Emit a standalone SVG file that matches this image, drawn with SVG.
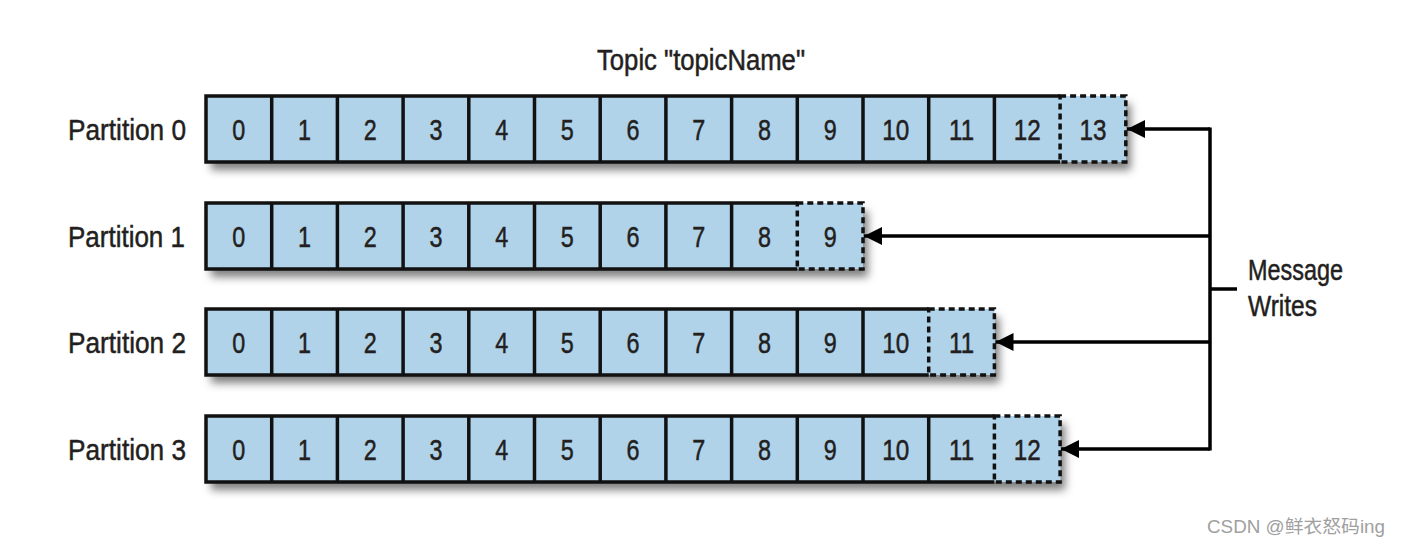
<svg xmlns="http://www.w3.org/2000/svg" width="1401" height="547" viewBox="0 0 1401 547">
<style>
.t{font-family:"Liberation Sans",Arial,sans-serif;fill:#231f20;stroke:#231f20;stroke-width:0.5}
.n{font-size:30px;text-anchor:middle}
.lbl{font-size:30px}
.bg{fill:#b0d3ea;filter:url(#sh)}
.so{fill:none;stroke:#111;stroke-width:3.5}
.da{fill:none;stroke:#111;stroke-width:3.5;stroke-dasharray:6 4}
.cn{fill:none;stroke:#000;stroke-width:3.5}
.wm{font-family:"Liberation Sans","Noto Sans CJK SC",sans-serif;font-size:18px;fill:#a0a0a0}
</style>
<defs>
<filter id="sh" x="-5%" y="-30%" width="115%" height="170%">
<feDropShadow dx="5" dy="8" stdDeviation="4" flood-color="#000" flood-opacity="0.5"/>
</filter>
<marker id="ah" markerUnits="userSpaceOnUse" markerWidth="20" markerHeight="20" refX="18" refY="9" orient="auto">
<path d="M0,0 L18,9 L0,18 Z" fill="#000"/>
</marker>
</defs>

<text class="t" x="597" y="70" font-size="29" textLength="208" lengthAdjust="spacingAndGlyphs">Topic "topicName"</text>

<g id="partition0">
<text class="t lbl" x="68" y="140" textLength="118" lengthAdjust="spacingAndGlyphs">Partition 0</text>
<rect class="bg" x="206" y="96" width="919.8" height="66"/>
<path class="so" d="M1060.1,96 H206 V162 H1060.1 M271.7,96 V162 M337.4,96 V162 M403.1,96 V162 M468.8,96 V162 M534.5,96 V162 M600.2,96 V162 M665.9,96 V162 M731.6,96 V162 M797.3,96 V162 M863,96 V162 M928.7,96 V162 M994.4,96 V162"/>
<rect class="da" x="1060.1" y="96" width="65.7" height="66"/>
<g class="t n">
<text x="238.85" y="140" textLength="13" lengthAdjust="spacingAndGlyphs">0</text>
<text x="304.55" y="140" textLength="13" lengthAdjust="spacingAndGlyphs">1</text>
<text x="370.25" y="140" textLength="13" lengthAdjust="spacingAndGlyphs">2</text>
<text x="435.95" y="140" textLength="13" lengthAdjust="spacingAndGlyphs">3</text>
<text x="501.65" y="140" textLength="13" lengthAdjust="spacingAndGlyphs">4</text>
<text x="567.35" y="140" textLength="13" lengthAdjust="spacingAndGlyphs">5</text>
<text x="633.05" y="140" textLength="13" lengthAdjust="spacingAndGlyphs">6</text>
<text x="698.75" y="140" textLength="13" lengthAdjust="spacingAndGlyphs">7</text>
<text x="764.45" y="140" textLength="13" lengthAdjust="spacingAndGlyphs">8</text>
<text x="830.15" y="140" textLength="13" lengthAdjust="spacingAndGlyphs">9</text>
<text x="895.85" y="140" textLength="27" lengthAdjust="spacingAndGlyphs">10</text>
<text x="961.55" y="140" textLength="25" lengthAdjust="spacingAndGlyphs">11</text>
<text x="1027.25" y="140" textLength="27" lengthAdjust="spacingAndGlyphs">12</text>
<text x="1092.95" y="140" textLength="27" lengthAdjust="spacingAndGlyphs">13</text>
</g>
</g>

<g id="partition1" transform="translate(0,107)">
<text class="t lbl" x="68" y="140" textLength="117" lengthAdjust="spacingAndGlyphs">Partition 1</text>
<rect class="bg" x="206" y="96" width="657" height="66"/>
<path class="so" d="M797.3,96 H206 V162 H797.3 M271.7,96 V162 M337.4,96 V162 M403.1,96 V162 M468.8,96 V162 M534.5,96 V162 M600.2,96 V162 M665.9,96 V162 M731.6,96 V162"/>
<rect class="da" x="797.3" y="96" width="65.7" height="66"/>
<g class="t n">
<text x="238.85" y="140" textLength="13" lengthAdjust="spacingAndGlyphs">0</text>
<text x="304.55" y="140" textLength="13" lengthAdjust="spacingAndGlyphs">1</text>
<text x="370.25" y="140" textLength="13" lengthAdjust="spacingAndGlyphs">2</text>
<text x="435.95" y="140" textLength="13" lengthAdjust="spacingAndGlyphs">3</text>
<text x="501.65" y="140" textLength="13" lengthAdjust="spacingAndGlyphs">4</text>
<text x="567.35" y="140" textLength="13" lengthAdjust="spacingAndGlyphs">5</text>
<text x="633.05" y="140" textLength="13" lengthAdjust="spacingAndGlyphs">6</text>
<text x="698.75" y="140" textLength="13" lengthAdjust="spacingAndGlyphs">7</text>
<text x="764.45" y="140" textLength="13" lengthAdjust="spacingAndGlyphs">8</text>
<text x="830.15" y="140" textLength="13" lengthAdjust="spacingAndGlyphs">9</text>
</g>
</g>

<g id="partition2" transform="translate(0,213)">
<text class="t lbl" x="68" y="140" textLength="118" lengthAdjust="spacingAndGlyphs">Partition 2</text>
<rect class="bg" x="206" y="96" width="788.4" height="66"/>
<path class="so" d="M928.7,96 H206 V162 H928.7 M271.7,96 V162 M337.4,96 V162 M403.1,96 V162 M468.8,96 V162 M534.5,96 V162 M600.2,96 V162 M665.9,96 V162 M731.6,96 V162 M797.3,96 V162 M863,96 V162"/>
<rect class="da" x="928.7" y="96" width="65.7" height="66"/>
<g class="t n">
<text x="238.85" y="140" textLength="13" lengthAdjust="spacingAndGlyphs">0</text>
<text x="304.55" y="140" textLength="13" lengthAdjust="spacingAndGlyphs">1</text>
<text x="370.25" y="140" textLength="13" lengthAdjust="spacingAndGlyphs">2</text>
<text x="435.95" y="140" textLength="13" lengthAdjust="spacingAndGlyphs">3</text>
<text x="501.65" y="140" textLength="13" lengthAdjust="spacingAndGlyphs">4</text>
<text x="567.35" y="140" textLength="13" lengthAdjust="spacingAndGlyphs">5</text>
<text x="633.05" y="140" textLength="13" lengthAdjust="spacingAndGlyphs">6</text>
<text x="698.75" y="140" textLength="13" lengthAdjust="spacingAndGlyphs">7</text>
<text x="764.45" y="140" textLength="13" lengthAdjust="spacingAndGlyphs">8</text>
<text x="830.15" y="140" textLength="13" lengthAdjust="spacingAndGlyphs">9</text>
<text x="895.85" y="140" textLength="27" lengthAdjust="spacingAndGlyphs">10</text>
<text x="961.55" y="140" textLength="25" lengthAdjust="spacingAndGlyphs">11</text>
</g>
</g>

<g id="partition3" transform="translate(0,320)">
<text class="t lbl" x="68" y="140" textLength="118" lengthAdjust="spacingAndGlyphs">Partition 3</text>
<rect class="bg" x="206" y="96" width="854.1" height="66"/>
<path class="so" d="M994.4,96 H206 V162 H994.4 M271.7,96 V162 M337.4,96 V162 M403.1,96 V162 M468.8,96 V162 M534.5,96 V162 M600.2,96 V162 M665.9,96 V162 M731.6,96 V162 M797.3,96 V162 M863,96 V162 M928.7,96 V162"/>
<rect class="da" x="994.4" y="96" width="65.7" height="66"/>
<g class="t n">
<text x="238.85" y="140" textLength="13" lengthAdjust="spacingAndGlyphs">0</text>
<text x="304.55" y="140" textLength="13" lengthAdjust="spacingAndGlyphs">1</text>
<text x="370.25" y="140" textLength="13" lengthAdjust="spacingAndGlyphs">2</text>
<text x="435.95" y="140" textLength="13" lengthAdjust="spacingAndGlyphs">3</text>
<text x="501.65" y="140" textLength="13" lengthAdjust="spacingAndGlyphs">4</text>
<text x="567.35" y="140" textLength="13" lengthAdjust="spacingAndGlyphs">5</text>
<text x="633.05" y="140" textLength="13" lengthAdjust="spacingAndGlyphs">6</text>
<text x="698.75" y="140" textLength="13" lengthAdjust="spacingAndGlyphs">7</text>
<text x="764.45" y="140" textLength="13" lengthAdjust="spacingAndGlyphs">8</text>
<text x="830.15" y="140" textLength="13" lengthAdjust="spacingAndGlyphs">9</text>
<text x="895.85" y="140" textLength="27" lengthAdjust="spacingAndGlyphs">10</text>
<text x="961.55" y="140" textLength="25" lengthAdjust="spacingAndGlyphs">11</text>
<text x="1027.25" y="140" textLength="27" lengthAdjust="spacingAndGlyphs">12</text>
</g>
</g>

<g id="message-writes">
<text class="t" x="1248" y="280" font-size="29" textLength="95" lengthAdjust="spacingAndGlyphs">Message</text>
<text class="t" x="1248" y="316" font-size="29" textLength="69" lengthAdjust="spacingAndGlyphs">Writes</text>
</g>

<g id="connectors">
<path class="cn" d="M1210,127.5 V450.5"/>
<path class="cn" d="M1210,289 H1237"/>
<path class="cn" d="M1210,129 H1127" marker-end="url(#ah)"/>
<path class="cn" d="M1210,236 H864" marker-end="url(#ah)"/>
<path class="cn" d="M1210,342 H995.5" marker-end="url(#ah)"/>
<path class="cn" d="M1210,449 H1061" marker-end="url(#ah)"/>
</g>

<text class="wm" x="1207" y="533" textLength="178" lengthAdjust="spacingAndGlyphs">CSDN @鲜衣怒码ing</text>
</svg>
